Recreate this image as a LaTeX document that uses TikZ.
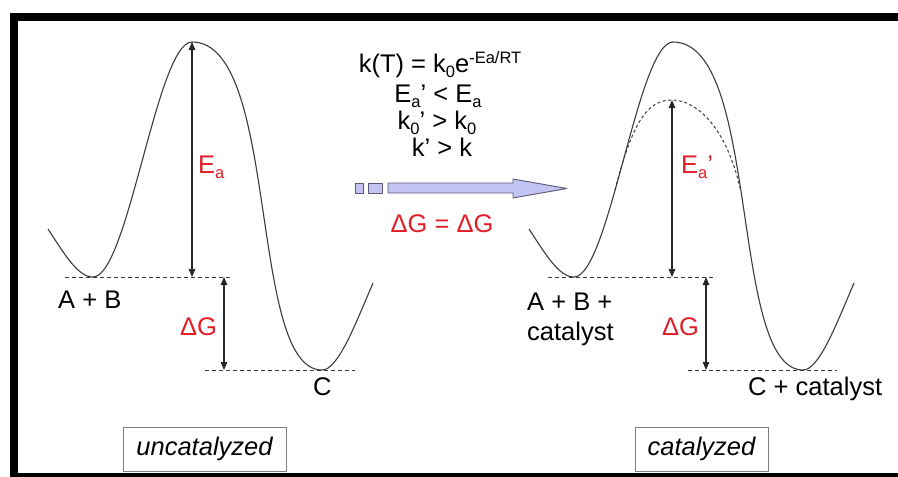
\documentclass[tikz,border=0pt]{standalone}
\usepackage{fontspec}
\setmainfont{Liberation Sans}
\usetikzlibrary{arrows.meta}
\definecolor{lbl}{RGB}{225,30,40}
\definecolor{crv}{RGB}{60,60,60}
\definecolor{arrfill}{RGB}{196,196,242}
\definecolor{arrline}{RGB}{90,90,120}
\newcommand{\lsub}[1]{{\fontsize{16.5}{16.5}\selectfont\raisebox{-5pt}{#1}}}
\newcommand{\lsup}[1]{{\fontsize{16.5}{16.5}\selectfont\raisebox{9pt}{#1}}}
\begin{document}
\begin{tikzpicture}[x=1pt,y=-1pt,
  txt/.style={inner sep=0pt, font=\fontsize{25.5}{30}\selectfont},
  redtxt/.style={txt, text=lbl},
  curve/.style={draw=crv, line width=1.1pt},
  lvl/.style={draw=crv, line width=0.9pt, dash pattern=on 4pt off 3pt},
  dcurve/.style={draw=crv, line width=1pt, dash pattern=on 3pt off 2.5pt},
  dim/.style={draw=black!85, line width=1.1pt, {Triangle[length=8pt,width=6.5pt]}-{Triangle[length=8pt,width=6.5pt]}},
  tag/.style={draw=gray, line width=1pt, inner sep=0pt, minimum height=44pt, font=\fontsize{25.5}{30}\selectfont\itshape},
  blk/.style={fill=arrfill, draw=arrline, line width=0.9pt, line join=round}
]
\useasboundingbox (0,0) rectangle (898,477);
% frame
\draw[line width=8pt] (13.5,485) -- (13.5,17) -- (905,17);
\fill (9.5,473) rectangle (905,478);

% ---------- left (uncatalyzed) ----------
\draw[curve] (48,229) .. controls (65,255) and (78,277) .. (93,277)
  .. controls (128,277) and (157,42) .. (192,42)
  .. controls (280,42) and (248,370) .. (322,370)
  .. controls (338,370) and (355,325) .. (373,283);
\coordinate (abLa) at (65,277);  \coordinate (abLb) at (232,277);
\coordinate (cLa) at (205,370);  \coordinate (cLb) at (355,370);
\draw[lvl] (abLa) -- (abLb);
\draw[lvl] (cLa) -- (cLb);
\coordinate (peakL) at (192,42); \coordinate (eaLb) at (192,277);
\coordinate (dgLa) at (224,277); \coordinate (dgLb) at (224,370);
\draw[dim] (peakL) -- (eaLb);
\draw[dim] (dgLa) -- (dgLb);
\node[redtxt, anchor=base west] (eaL) at (198,173) {E\lsub{a}};
\node[redtxt, anchor=base west] (dgL) at (180,335) {ΔG};
\node[txt, anchor=base west] (ab) at (58,308) {A + B};
\node[txt, anchor=base west] (c) at (313,395) {C};
\node[tag, minimum width=163pt] (unc) at (204.5,449) {uncatalyzed};

% ---------- right (catalyzed) ----------
\begin{scope}[xshift=481pt]
\draw[curve] (48,229) .. controls (65,255) and (78,277) .. (93,277)
  .. controls (128,277) and (157,42) .. (192,42)
  .. controls (280,42) and (248,370) .. (322,370)
  .. controls (338,370) and (355,325) .. (373,283);
\end{scope}
\draw[dcurve] (615,190) .. controls (633,120) and (648,100) .. (672,100)
  .. controls (698,100) and (727,130) .. (740,188);
\coordinate (abRa) at (548,277); \coordinate (abRb) at (715,277);
\coordinate (cRa) at (688,370);  \coordinate (cRb) at (837,370);
\draw[lvl] (abRa) -- (abRb);
\draw[lvl] (cRa) -- (cRb);
\coordinate (peakR) at (672,100); \coordinate (eaRb) at (672,277);
\coordinate (dgRa) at (706,277);  \coordinate (dgRb) at (706,370);
\draw[dim] (peakR) -- (eaRb);
\draw[dim] (dgRa) -- (dgRb);
\node[redtxt, anchor=base west] (eaR) at (681,173) {E\lsub{a}’};
\node[redtxt, anchor=base west] (dgR) at (662,335) {ΔG};
\node[txt, anchor=base west] (abc1) at (527,310) {A + B +};
\node[txt, anchor=base west] (abc2) at (527,340) {catalyst};
\node[txt, anchor=base west] (cc) at (748,395) {C + catalyst};
\node[tag, minimum width=133pt] (cat) at (701.5,449) {catalyzed};

% ---------- middle ----------
\node[txt, anchor=base] (l1) at (440,72) {k(T) = k\lsub{0}e\lsup{-Ea/RT}};
\node[txt, anchor=base] (l2) at (438,102) {E\lsub{a}’ < E\lsub{a}};
\node[txt, anchor=base] (l3) at (437,129) {k\lsub{0}’ > k\lsub{0}};
\node[txt, anchor=base] (l4) at (442,156) {k’ > k};
\draw[blk] (355,183) rectangle (363,193);
\draw[blk] (368,183) rectangle (382,193);
\draw[blk] (388,183) -- (513,183) -- (513,179) -- (567,188.5) -- (513,198) -- (513,193) -- (388,193) -- cycle;
\node[redtxt, anchor=base] (dgdg) at (442,232) {ΔG = ΔG};
\end{tikzpicture}
\end{document}
